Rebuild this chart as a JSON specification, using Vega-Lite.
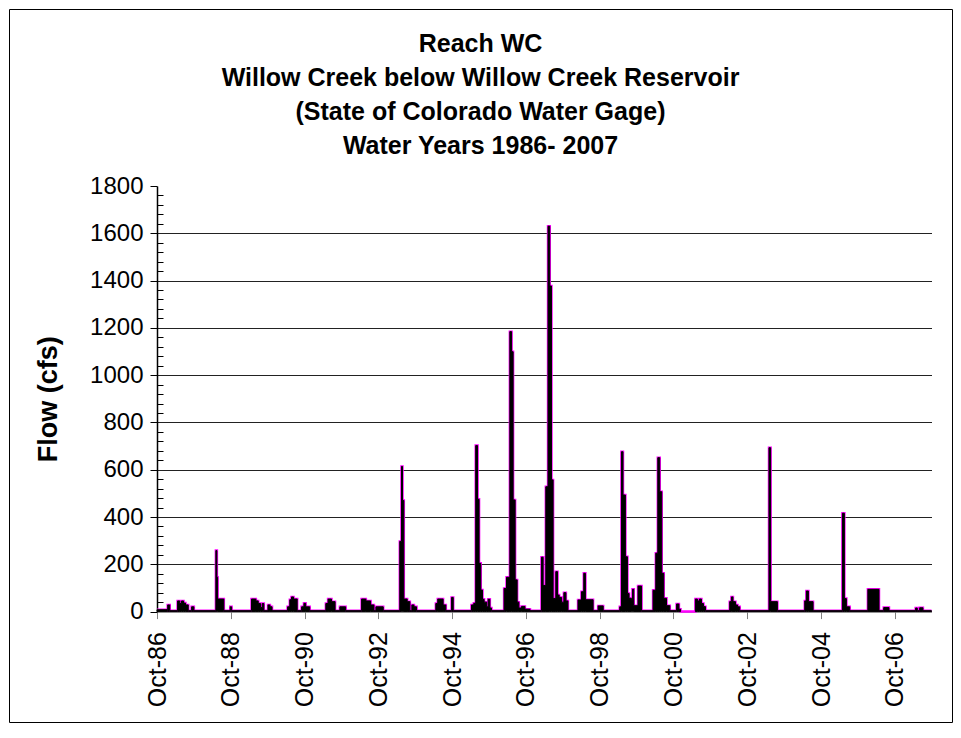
{
  "$schema": "https://vega.github.io/schema/vega-lite/v6.json",
  "width": 943,
  "height": 713,
  "autosize": {"type": "none"},
  "padding": {"left": 9, "top": 9, "right": 9, "bottom": 16},
  "background": "white",
  "config": {
    "font": "Liberation Sans",
    "view": {"stroke": "#000", "strokeWidth": 1}
  },
  "title": {
    "text": ["Reach WC", "Willow Creek below Willow Creek Reservoir", "(State of Colorado Water Gage)", "Water Years 1986- 2007"],
    "fontSize": 25,
    "fontWeight": "bold",
    "lineHeight": 34,
    "color": "#000",
    "anchor": "middle",
    "frame": "group",
    "baseline": "bottom",
    "offset": -175
  },
  "data": {
    "values": [
      {"date": "1986-10-01", "flow": 8},
      {"date": "1987-01-08", "flow": 4},
      {"date": "1987-01-15", "flow": 28},
      {"date": "1987-02-04", "flow": 4},
      {"date": "1987-04-23", "flow": 45},
      {"date": "1987-05-15", "flow": 34},
      {"date": "1987-06-01", "flow": 45},
      {"date": "1987-06-21", "flow": 36},
      {"date": "1987-07-10", "flow": 28},
      {"date": "1987-08-06", "flow": 4},
      {"date": "1987-09-09", "flow": 20},
      {"date": "1987-10-01", "flow": 4},
      {"date": "1988-05-06", "flow": 258},
      {"date": "1988-05-16", "flow": 145},
      {"date": "1988-05-23", "flow": 53},
      {"date": "1988-07-24", "flow": 4},
      {"date": "1988-09-25", "flow": 20},
      {"date": "1988-10-09", "flow": 4},
      {"date": "1989-04-24", "flow": 53},
      {"date": "1989-06-06", "flow": 45},
      {"date": "1989-06-29", "flow": 34},
      {"date": "1989-07-22", "flow": 17},
      {"date": "1989-08-08", "flow": 34},
      {"date": "1989-08-24", "flow": 4},
      {"date": "1989-10-04", "flow": 28},
      {"date": "1989-10-23", "flow": 20},
      {"date": "1989-11-13", "flow": 4},
      {"date": "1990-04-16", "flow": 20},
      {"date": "1990-05-08", "flow": 50},
      {"date": "1990-05-25", "flow": 62},
      {"date": "1990-06-14", "flow": 53},
      {"date": "1990-07-20", "flow": 4},
      {"date": "1990-09-02", "flow": 20},
      {"date": "1990-09-25", "flow": 35},
      {"date": "1990-10-12", "flow": 20},
      {"date": "1990-11-21", "flow": 4},
      {"date": "1991-04-30", "flow": 34},
      {"date": "1991-05-22", "flow": 53},
      {"date": "1991-06-25", "flow": 42},
      {"date": "1991-07-30", "flow": 4},
      {"date": "1991-09-16", "flow": 20},
      {"date": "1991-11-12", "flow": 4},
      {"date": "1992-04-18", "flow": 53},
      {"date": "1992-05-30", "flow": 45},
      {"date": "1992-07-16", "flow": 28},
      {"date": "1992-08-18", "flow": 4},
      {"date": "1992-09-07", "flow": 20},
      {"date": "1992-11-18", "flow": 4},
      {"date": "1993-05-01", "flow": 297},
      {"date": "1993-05-18", "flow": 614},
      {"date": "1993-05-28", "flow": 470},
      {"date": "1993-06-10", "flow": 53},
      {"date": "1993-07-13", "flow": 42},
      {"date": "1993-08-09", "flow": 4},
      {"date": "1993-08-29", "flow": 28},
      {"date": "1993-09-18", "flow": 20},
      {"date": "1993-10-14", "flow": 4},
      {"date": "1994-04-23", "flow": 34},
      {"date": "1994-05-12", "flow": 53},
      {"date": "1994-07-04", "flow": 28},
      {"date": "1994-07-31", "flow": 4},
      {"date": "1994-09-26", "flow": 60},
      {"date": "1994-10-12", "flow": 4},
      {"date": "1995-04-11", "flow": 28},
      {"date": "1995-05-04", "flow": 35},
      {"date": "1995-05-23", "flow": 702},
      {"date": "1995-06-10", "flow": 475},
      {"date": "1995-06-25", "flow": 204},
      {"date": "1995-07-12", "flow": 91},
      {"date": "1995-07-29", "flow": 52},
      {"date": "1995-08-14", "flow": 40},
      {"date": "1995-09-08", "flow": 20},
      {"date": "1995-09-23", "flow": 52},
      {"date": "1995-10-10", "flow": 15},
      {"date": "1995-10-26", "flow": 4},
      {"date": "1996-02-28", "flow": 98},
      {"date": "1996-03-23", "flow": 145},
      {"date": "1996-04-25", "flow": 1184},
      {"date": "1996-05-12", "flow": 1099},
      {"date": "1996-05-27", "flow": 472},
      {"date": "1996-06-16", "flow": 134},
      {"date": "1996-07-06", "flow": 40},
      {"date": "1996-07-23", "flow": 15},
      {"date": "1996-08-19", "flow": 22},
      {"date": "1996-09-21", "flow": 10},
      {"date": "1996-11-10", "flow": 4},
      {"date": "1997-03-04", "flow": 230},
      {"date": "1997-03-20", "flow": 110},
      {"date": "1997-04-16", "flow": 528},
      {"date": "1997-05-08", "flow": 1630},
      {"date": "1997-05-25", "flow": 1377},
      {"date": "1997-06-11", "flow": 557},
      {"date": "1997-06-27", "flow": 55},
      {"date": "1997-07-24", "flow": 169},
      {"date": "1997-08-10", "flow": 70},
      {"date": "1997-08-26", "flow": 60},
      {"date": "1997-09-19", "flow": 40},
      {"date": "1997-10-12", "flow": 80},
      {"date": "1997-11-01", "flow": 45},
      {"date": "1997-11-21", "flow": 4},
      {"date": "1998-03-01", "flow": 49},
      {"date": "1998-04-04", "flow": 84},
      {"date": "1998-04-27", "flow": 162},
      {"date": "1998-05-13", "flow": 50},
      {"date": "1998-07-28", "flow": 4},
      {"date": "1998-09-16", "flow": 24},
      {"date": "1998-11-05", "flow": 4},
      {"date": "1999-04-18", "flow": 20},
      {"date": "1999-05-05", "flow": 676},
      {"date": "1999-05-20", "flow": 493},
      {"date": "1999-06-13", "flow": 232},
      {"date": "1999-07-03", "flow": 77},
      {"date": "1999-07-19", "flow": 56},
      {"date": "1999-08-12", "flow": 45},
      {"date": "1999-08-22", "flow": 94},
      {"date": "1999-09-04", "flow": 25},
      {"date": "1999-10-16", "flow": 108},
      {"date": "1999-11-20", "flow": 4},
      {"date": "2000-03-13", "flow": 90},
      {"date": "2000-04-09", "flow": 247},
      {"date": "2000-04-29", "flow": 651},
      {"date": "2000-05-18", "flow": 507},
      {"date": "2000-06-07", "flow": 162},
      {"date": "2000-06-27", "flow": 56},
      {"date": "2000-07-24", "flow": 25},
      {"date": "2000-08-26", "flow": 4},
      {"date": "2000-11-01", "flow": 32},
      {"date": "2000-11-24", "flow": 10},
      {"date": "2000-12-10", "flow": 0},
      {"date": "2000-12-20", "flow": null},
      {"date": "2001-05-06", "flow": 53},
      {"date": "2001-05-26", "flow": 45},
      {"date": "2001-06-15", "flow": 53},
      {"date": "2001-07-05", "flow": 34},
      {"date": "2001-07-25", "flow": 21},
      {"date": "2001-08-14", "flow": 4},
      {"date": "2002-04-11", "flow": 42},
      {"date": "2002-04-28", "flow": 62},
      {"date": "2002-05-13", "flow": 42},
      {"date": "2002-06-07", "flow": 28},
      {"date": "2002-06-27", "flow": 20},
      {"date": "2002-07-19", "flow": 4},
      {"date": "2003-05-05", "flow": 693},
      {"date": "2003-05-21", "flow": 42},
      {"date": "2003-07-27", "flow": 4},
      {"date": "2004-04-23", "flow": 45},
      {"date": "2004-05-09", "flow": 87},
      {"date": "2004-05-29", "flow": 42},
      {"date": "2004-07-14", "flow": 4},
      {"date": "2005-05-01", "flow": 416},
      {"date": "2005-05-20", "flow": 55},
      {"date": "2005-06-09", "flow": 20},
      {"date": "2005-07-12", "flow": 4},
      {"date": "2006-01-08", "flow": 94},
      {"date": "2006-04-28", "flow": 4},
      {"date": "2006-06-14", "flow": 17},
      {"date": "2006-08-05", "flow": 4},
      {"date": "2007-04-26", "flow": 15},
      {"date": "2007-05-12", "flow": 4},
      {"date": "2007-06-05", "flow": 16},
      {"date": "2007-07-07", "flow": 4},
      {"date": "2007-09-30", "flow": 4}
    ]
  },
  "encoding": {
    "x": {
      "field": "date",
      "type": "temporal",
      "scale": {
        "type": "utc",
        "domain": [
          {"year": 1986, "month": 10, "date": 1, "utc": true},
          {"year": 2007, "month": 9, "date": 30, "utc": true}
        ],
        "range": [148, 922.5]
      },
      "axis": {
        "title": null,
        "offset": -110.4,
        "values": [
          {"year": 1986, "month": 10, "date": 1, "utc": true},
          {"year": 1988, "month": 10, "date": 1, "utc": true},
          {"year": 1990, "month": 10, "date": 1, "utc": true},
          {"year": 1992, "month": 10, "date": 1, "utc": true},
          {"year": 1994, "month": 10, "date": 1, "utc": true},
          {"year": 1996, "month": 10, "date": 1, "utc": true},
          {"year": 1998, "month": 10, "date": 1, "utc": true},
          {"year": 2000, "month": 10, "date": 1, "utc": true},
          {"year": 2002, "month": 10, "date": 1, "utc": true},
          {"year": 2004, "month": 10, "date": 1, "utc": true},
          {"year": 2006, "month": 10, "date": 1, "utc": true}
        ],
        "labelExpr": "utcFormat(datum.value, '%b-%y')",
        "labelAngle": 270,
        "labelAlign": "right",
        "labelBaseline": "middle",
        "labelFontSize": 25,
        "labelColor": "#000",
        "labelPadding": 13,
        "labelOverlap": false,
        "labelFlush": false,
        "tickSize": 7,
        "tickColor": "#808080",
        "domainColor": "#808080",
        "domainWidth": 1.5,
        "grid": false
      }
    },
    "y": {
      "field": "flow",
      "type": "quantitative",
      "scale": {"domain": [0, 1800], "nice": false, "range": [602.6, 177]},
      "axis": {
        "title": "Flow (cfs)",
        "titleFontSize": 27,
        "titleFontWeight": "bold",
        "titleColor": "#000",
        "titlePadding": 27,
        "offset": -148,
        "values": [0, 40, 80, 120, 160, 200, 240, 280, 320, 360, 400, 440, 480, 520, 560, 600, 640, 680, 720, 760, 800, 840, 880, 920, 960, 1000, 1040, 1080, 1120, 1160, 1200, 1240, 1280, 1320, 1360, 1400, 1440, 1480, 1520, 1560, 1600, 1640, 1680, 1720, 1760, 1800],
        "labelExpr": "datum.value % 200 === 0 ? format(datum.value, 'd') : ''",
        "labelFontSize": 24,
        "labelColor": "#000",
        "labelPadding": 7,
        "labelOverlap": false,
        "labelFlush": false,
        "tickColor": "#000",
        "tickSize": {"condition": {"test": "datum.value % 200 === 0", "value": 7}, "value": -6},
        "domainColor": "#000",
        "domainWidth": 1.5,
        "grid": true,
        "gridColor": "#222",
        "gridWidth": 1,
        "gridOpacity": {"condition": {"test": "datum.value % 200 === 0 && datum.value > 0 && datum.value < 1800", "value": 1}, "value": 0}
      }
    }
  },
  "layer": [
    {
      "mark": {"type": "line", "interpolate": "step-after", "color": "#ff00ff", "strokeWidth": 2.5, "invalid": "filter"}
    },
    {
      "mark": {"type": "area", "interpolate": "step-after", "color": "#000", "stroke": "#000", "strokeWidth": 1, "invalid": "break-paths-show-domains"}
    },
    {
      "data": {"values": [{}]},
      "mark": {"type": "rule", "color": "#808080", "strokeWidth": 1.5},
      "encoding": {
        "x": {"datum": {"year": 1986, "month": 10, "date": 1, "utc": true}, "type": "temporal"},
        "x2": {"datum": {"year": 2007, "month": 9, "date": 30, "utc": true}},
        "y": {"datum": 1800, "type": "quantitative"}
      }
    },
    {
      "data": {"values": [{}]},
      "mark": {"type": "rule", "color": "#808080", "strokeWidth": 1.5},
      "encoding": {
        "x": {"datum": {"year": 2007, "month": 9, "date": 30, "utc": true}, "type": "temporal"},
        "y": {"datum": 0, "type": "quantitative"},
        "y2": {"datum": 1800}
      }
    }
  ]
}
